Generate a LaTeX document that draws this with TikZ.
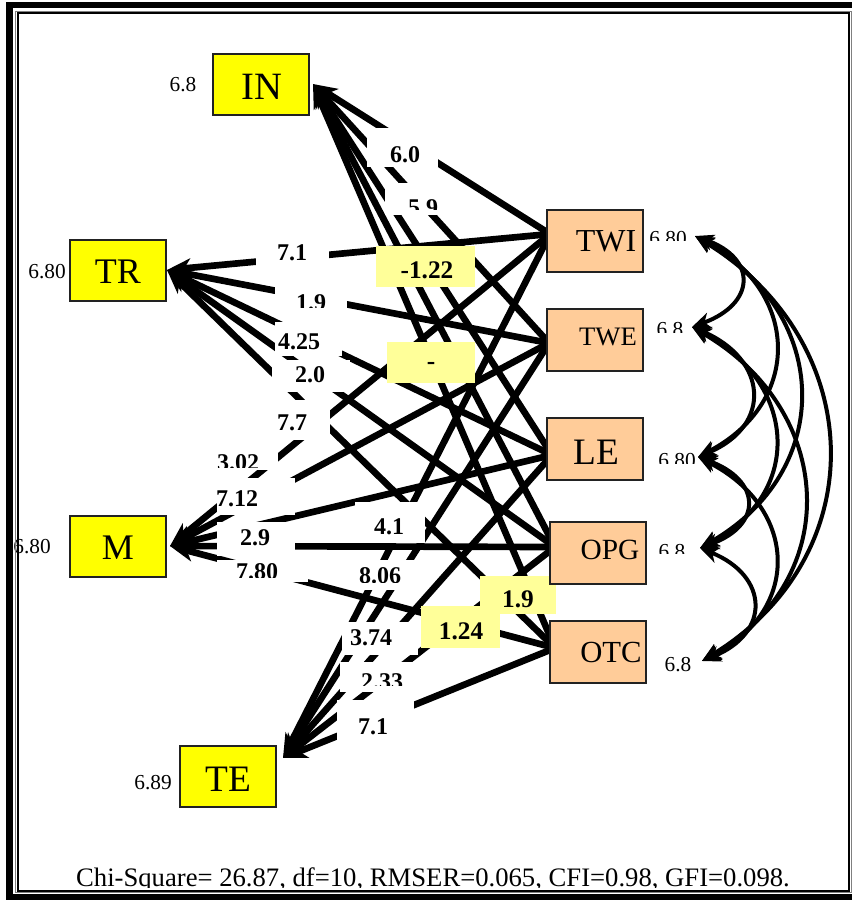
\documentclass[tikz,border=0pt]{standalone}
\usepackage{fontspec}
\setmainfont{Liberation Serif}
\usetikzlibrary{arrows.meta}
\definecolor{obsyellow}{HTML}{FFFF00}
\definecolor{peach}{HTML}{FFCC99}
\definecolor{paleyellow}{HTML}{FFFF99}
\definecolor{boxedge}{HTML}{222222}
\begin{document}
\begin{tikzpicture}[x=0.75pt,y=-0.75pt,
  regr/.style={line width=5pt,-{Stealth[length=18pt,width=14pt,inset=5pt]}},
  cov/.style={line width=3pt,{Stealth[length=14pt,width=12pt,inset=4pt]}-{Stealth[length=14pt,width=12pt,inset=4pt]}},
  ybox/.style={draw=boxedge,line width=1.5pt,fill=obsyellow,minimum width=72pt,minimum height=45.75pt,inner sep=0pt},
  pbox/.style={draw=boxedge,line width=1.5pt,fill=peach,minimum width=72pt,minimum height=46.5pt,inner sep=0pt},
  boxtext/.style={inner sep=0pt},
  lab/.style={font=\bfseries\fontsize{18}{19}\selectfont,inner sep=0pt},
  ylab/.style={font=\bfseries\fontsize{19}{20}\selectfont,inner sep=0pt},
  var/.style={font=\fontsize{16}{17}\selectfont,inner sep=0pt},
  wpatch/.style={fill=white},
  ypatch/.style={fill=paleyellow},
]
\useasboundingbox (0,0) rectangle (852,900);

% end points of the paths
\coordinate (pIN) at (313,84);
\coordinate (pTR) at (167,270);
\coordinate (pM)  at (170,546);
\coordinate (pTE) at (283,758);
\coordinate (sTWI) at (550,234);
\coordinate (sTWE) at (549,343);
\coordinate (sLE)  at (552,455);
\coordinate (sOPG) at (555,547);
\coordinate (sOTC) at (555,648);
\coordinate (vTWI) at (695,236);
\coordinate (vTWE) at (692,327);
\coordinate (vLE)  at (698,457);
\coordinate (vOPG) at (700,548);
\coordinate (vOTC) at (702,661);

% structural paths
\foreach \s in {sTWI,sTWE,sLE,sOPG,sOTC}{
  \foreach \t in {pIN,pTR,pM,pTE}{
    \draw[regr] (\s) -- (\t);
  }
}

% covariances among the predictors
\draw[cov] (vTWI) .. controls +(63,23) and +(63,-23) .. (vTWE);
\draw[cov] (vTWI) .. controls +(105,55) and +(105,-55) .. (vLE);
\draw[cov] (vTWI) .. controls +(136,78) and +(136,-78) .. (vOPG);
\draw[cov] (vTWI) .. controls +(173,106) and +(173,-106) .. (vOTC);
\draw[cov] (vTWE) .. controls +(75,32) and +(75,-32) .. (vLE);
\draw[cov] (vTWE) .. controls +(105,55) and +(105,-55) .. (vOPG);
\draw[cov] (vTWE) .. controls +(143,83) and +(143,-83) .. (vOTC);
\draw[cov] (vLE) .. controls +(63,23) and +(63,-23) .. (vOPG);
\draw[cov] (vLE) .. controls +(100,51) and +(100,-51) .. (vOTC);
\draw[cov] (vOPG) .. controls +(69,28) and +(69,-28) .. (vOTC);

% white label patches
\fill[wpatch] (367,128) rectangle (438,167);
\fill[wpatch] (385,183) rectangle (440,215);
\fill[wpatch] (256,236) rectangle (329,268);
\fill[wpatch] (275,284) rectangle (347,309);
\fill[wpatch] (275,322) rectangle (342,356);
\fill[wpatch] (272,360) rectangle (350,392);
\fill[wpatch] (270,400) rectangle (330,440);
\fill[wpatch] (217,445) rectangle (278,470);
\fill[wpatch] (217,478) rectangle (295,515);
\fill[wpatch] (217,522) rectangle (295,556);
\fill[wpatch] (217,560) rectangle (308,582);
\fill[wpatch] (355,502) rectangle (425,543);
\fill[wpatch] (350,560) rectangle (425,590);
\fill[wpatch] (342,622) rectangle (418,655);
\fill[wpatch] (340,662) rectangle (420,692);
\fill[wpatch] (337,700) rectangle (414,752);

% estimates
\node[lab] (l60) at (405,155) {6.0};
\begin{scope}\clip (380,150) rectangle (450,209);
\node[lab] (l59) at (423,208) {5.9};
\end{scope}
\node[lab] (l71a) at (292,253) {7.1};
\begin{scope}\clip (270,280) rectangle (350,307);
\node[lab] (l19a) at (311,303) {1.9};
\end{scope}
\node[lab] (l425) at (299,342) {4.25};
\node[lab] (l20) at (310,375) {2.0};
\node[lab] (l77) at (292,423) {7.7};
\begin{scope}\clip (210,440) rectangle (290,467);
\node[lab] (l302) at (238,463) {3.02};
\end{scope}
\node[lab] (l712) at (237,499) {7.12};
\node[lab] (l29) at (255,538) {2.9};
\begin{scope}\clip (210,555) rectangle (310,577);
\node[lab] (l780) at (257,572) {7.80};
\end{scope}
\node[lab] (l41) at (389,527) {4.1};
\begin{scope}\clip (340,555) rectangle (430,582);
\node[lab] (l806) at (380,576) {8.06};
\end{scope}
\node[lab] (l374) at (371,638) {3.74};
\begin{scope}\clip (340,660) rectangle (430,685);
\node[lab] (l233) at (382,682) {2.33};
\end{scope}
\node[lab] (l71b) at (373,727) {7.1};

% highlighted estimates
\fill[ypatch] (376,246) rectangle (475,287);
\node[ylab] (y122) at (427,270) {-1.22};
\fill[ypatch] (387,342) rectangle (475,383);
\node[ylab] (ydash) at (431,366) {-};
\fill[ypatch] (480,576) rectangle (556,614);
\node[ylab] (y19) at (518,599) {1.9};
\fill[ypatch] (421,606) rectangle (500,648);
\node[ylab] (y124) at (461,631) {1.24};

% outcome variables
\node[ybox] (IN) at (261,84.5) {};
\node[boxtext,font=\fontsize{29}{30}\selectfont] (INt) at (262,87) {IN};
\node[ybox] (TR) at (118,270) {};
\node[boxtext,font=\fontsize{27}{28}\selectfont] (TRt) at (118,272) {TR};
\node[ybox] (M) at (118,546.5) {};
\node[boxtext,font=\fontsize{27}{28}\selectfont] (Mt) at (118,548) {M};
\node[ybox] (TE) at (228,776.5) {};
\node[boxtext,font=\fontsize{28}{29}\selectfont] (TEt) at (228,779) {TE};

% predictors
\node[pbox] (TWI) at (595,241) {};
\node[boxtext,font=\fontsize{24}{25}\selectfont] (TWIt) at (606,241) {TWI};
\node[pbox] (TWE) at (595,340) {};
\node[boxtext,font=\fontsize{20}{21}\selectfont] (TWEt) at (608,337) {TWE};
\node[pbox] (LE) at (595,449) {};
\node[boxtext,font=\fontsize{28}{29}\selectfont] (LEt) at (596,452) {LE};
\node[pbox] (OPG) at (598,553) {};
\node[boxtext,font=\fontsize{22}{23}\selectfont] (OPGt) at (610,550) {OPG};
\node[pbox] (OTC) at (598,652) {};
\node[boxtext,font=\fontsize{23}{24}\selectfont] (OTCt) at (611,652) {OTC};

% error variances
\node[var] (eIN) at (183,85) {6.8};
\node[var] (eTR) at (47,272) {6.80};
\node[var] (eM) at (32,547) {6.80};
\node[var] (eTE) at (153,783) {6.89};
\begin{scope}\clip (640,220) rectangle (692,240.5);
\node[var] (eTWI) at (668,239) {6.80};
\end{scope}
\begin{scope}\clip (640,315) rectangle (690,332);
\node[var] (eTWE) at (670,330) {6.8};
\end{scope}
\begin{scope}\clip (640,445) rectangle (697,463);
\node[var] (eLE) at (677,461) {6.80};
\end{scope}
\begin{scope}\clip (640,535) rectangle (697,553);
\node[var] (eOPG) at (672,552) {6.8};
\end{scope}
\node[var] (eOTC) at (678,665) {6.8};

% fit statistics
\begin{scope}\clip (20,850) rectangle (845,887);
\node[anchor=base,inner sep=0pt,font=\fontsize{20}{21}\selectfont] (fit) at (433,886)
  {Chi-Square= 26.87, df=10, RMSER=0.065, CFI=0.98, GFI=0.098.};
\end{scope}

% frame
\draw[line width=4.9pt] (9.5,5) rectangle (880,897);
\draw[gray,line width=0.75pt] (15,11) rectangle (851,892.5);
\draw[line width=1.5pt] (17.5,13) rectangle (849,890.5);
\end{tikzpicture}
\end{document}
